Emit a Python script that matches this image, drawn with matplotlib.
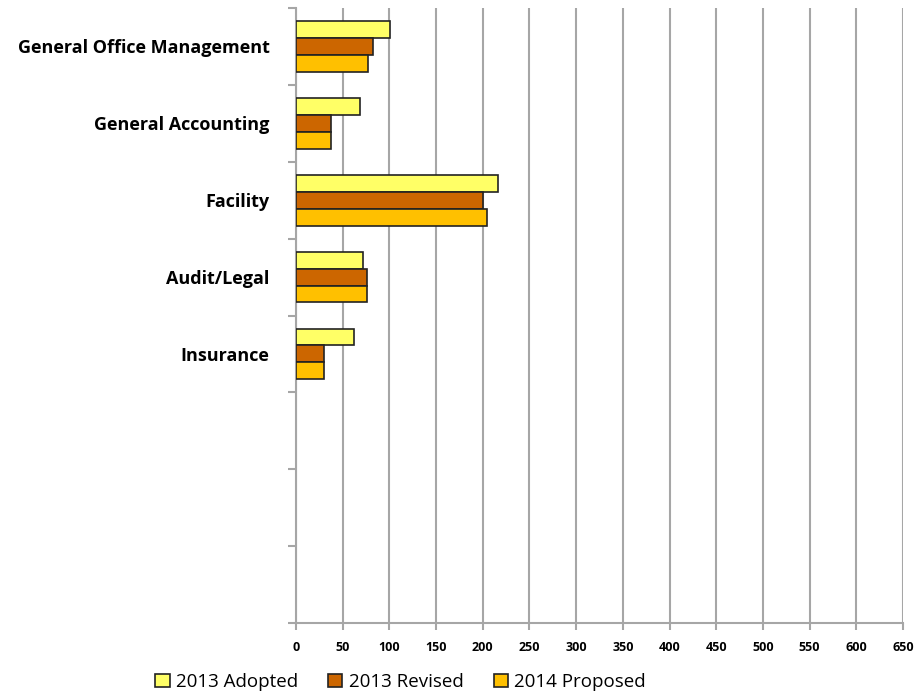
import matplotlib.pyplot as plt
import numpy as np

# Data
categories = ["General Office Management", "General Accounting", "Facility",
              "Audit/Legal", "Insurance", "", "", ""]
adopted_2013 = [101, 69, 216, 72, 62]
revised_2013 = [82, 38, 200, 76, 30]
proposed_2014 = [77, 37, 205, 76, 30]
series_names = ["2013 Adopted", "2013 Revised", "2014 Proposed"]
colors = ["#FFFF66", "#CC6600", "#FFC000"]
xticks = list(range(0, 651, 50))

plt.rcParams['font.family'] = ['Open Sans', 'DejaVu Sans']

fig = plt.figure(figsize=(9.19, 6.98), dpi=100)
ax = fig.add_axes([296 / 919, 1 - 623 / 698, (903 - 296) / 919, (623 - 8) / 698])

y = np.arange(len(adopted_2013))
h = 0.22
for i, (vals, name, col) in enumerate(zip([adopted_2013, revised_2013, proposed_2014],
                                          series_names, colors)):
    ax.barh(y + (i - 1) * h, vals, height=h, color=col, edgecolor="#222222",
            linewidth=1.2, label=name, zorder=3)

ax.set_xlim(0, 650)
ax.set_ylim(len(categories) - 0.5, -0.5)
ax.set_xticks(xticks)
ax.set_xticklabels([str(t) for t in xticks], fontsize=9, fontweight='bold')
ax.xaxis.grid(True, color="#A6A6A6", linewidth=1.5, zorder=0)

ax.set_yticks(np.arange(len(categories)))
ax.set_yticklabels(categories, fontsize=13, fontweight='bold')
ax.set_yticks(np.arange(len(categories) + 1) - 0.5, minor=True)
ax.tick_params(axis='y', which='major', length=0, pad=19)
ax.tick_params(axis='y', which='minor', length=6, color="#A6A6A6", width=1.5)
ax.tick_params(axis='x', length=5, color="#A6A6A6", width=1.5, pad=8)

for s in ["top", "right"]:
    ax.spines[s].set_visible(False)
for s in ["left", "bottom"]:
    ax.spines[s].set_color("#A6A6A6")
    ax.spines[s].set_linewidth(1.5)

fig.legend(loc='center', bbox_to_anchor=(0.436, 1 - 682 / 698), ncol=3,
           frameon=False, fontsize=13.5, handlelength=0.75, handleheight=0.75,
           handletextpad=0.35, columnspacing=1.6)

fig.savefig("out.png", dpi=100)
